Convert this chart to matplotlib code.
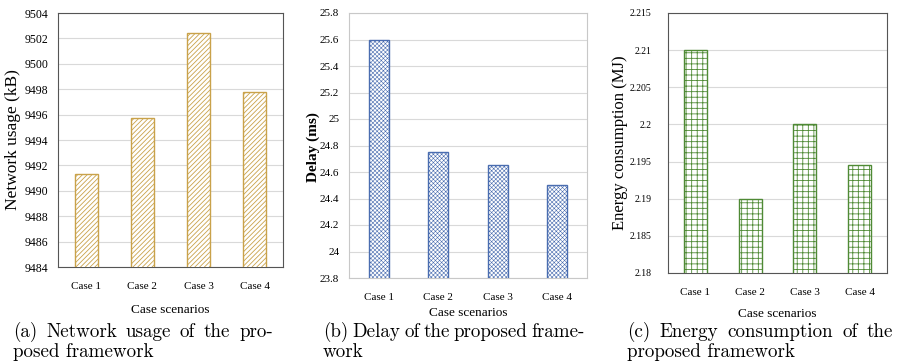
import matplotlib
matplotlib.use("Agg")
import matplotlib.pyplot as plt

cases = ['Case 1', 'Case 2', 'Case 3', 'Case 4']
network_kb = [9491.3, 9495.7, 9502.4, 9497.8]
delay_ms = [25.6, 24.75, 24.65, 24.5]
energy_mj = [2.21, 2.19, 2.2, 2.1945]

net_ticks = list(range(9484, 9505, 2))
delay_ticks = [23.8, 24, 24.2, 24.4, 24.6, 24.8, 25, 25.2, 25.4, 25.6, 25.8]
delay_labels = ['23.8', '24', '24.2', '24.4', '24.6', '24.8', '25', '25.2',
                '25.4', '25.6', '25.8']
energy_ticks = [2.18, 2.185, 2.19, 2.195, 2.2, 2.205, 2.21, 2.215]
energy_labels = ['2.18', '2.185', '2.19', '2.195', '2.2', '2.205', '2.21', '2.215']

serif = 'Liberation Serif'
cap_size = 13.7

W, H = 899, 364
fig = plt.figure(figsize=(W / 100, H / 100), dpi=100)

def px_axes(x0, y0, x1, y1):
  return fig.add_axes([x0 / W, 1 - y1 / H, (x1 - x0) / W, (y1 - y0) / H])

def panel(ax, values, ticks, labels, color, hatch, width, frame,
          tsize=8, ypad=7, xlpad=6, hlw=0.6):
  with plt.rc_context({'hatch.linewidth': hlw}):
    ax.bar(range(len(values)), values, width=width, color='white',
           edgecolor=color, hatch=hatch, linewidth=1.0, zorder=3)
  ax.set_xlim(-0.5, len(values) - 0.5)
  ax.set_ylim(ticks[0], ticks[-1])
  ax.set_yticks(ticks)
  ax.set_yticklabels(labels, fontfamily=serif, fontsize=tsize)
  ax.set_xticks(range(len(values)))
  ax.set_xticklabels(cases, fontfamily=serif, fontsize=8)
  ax.tick_params(axis='x', length=0, pad=10.5)
  ax.tick_params(axis='y', length=0, pad=ypad)
  ax.yaxis.grid(True, color='#d9d9d9', linewidth=0.8, zorder=0)
  ax.set_axisbelow(True)
  for s in ax.spines.values():
    s.set_color(frame)
    s.set_linewidth(0.8)
  ax.set_xlabel('Case scenarios', fontfamily=serif, fontsize=9.5, labelpad=xlpad)

def ylabel(x, y, txt, size, weight='normal'):
  fig.text(x / W, 1 - y / H, txt, rotation=90, ha='center', va='center',
           fontfamily=serif, fontsize=size, fontweight=weight)

# (a) network usage
ax1 = px_axes(58, 13, 283, 267)
panel(ax1, network_kb, net_ticks, [str(t) for t in net_ticks],
      '#c9a24a', '///////', 0.41, '#555555', tsize=8.5, xlpad=10)
ylabel(13, 140, 'Network usage (kB)', 12.5)

# (b) delay
ax2 = px_axes(349, 13, 587, 278)
panel(ax2, delay_ms, delay_ticks, delay_labels,
      '#4a6db0', 'xxxxxxxx', 0.34, '#c8c8c8', tsize=8, xlpad=4, hlw=0.4)
ylabel(313, 147, 'Delay (ms)', 11, 'bold')

# (c) energy consumption
ax3 = px_axes(668, 13, 887, 273)
panel(ax3, energy_mj, energy_ticks, energy_labels,
      '#4f8a35', '+++', 0.42, '#555555', tsize=7, ypad=12, xlpad=8)
ylabel(620, 143, 'Energy consumption (MJ)', 12)

# sub-captions, first line justified to the column width
def justified(x0, x1, y, line):
  words = line.split()
  texts = [fig.text(0, 0, w, fontfamily='cmr10', fontsize=cap_size,
                    va='baseline') for w in words]
  r = fig.canvas.get_renderer()
  widths = [t.get_window_extent(r).width for t in texts]
  gap = (x1 - x0 - sum(widths)) / (len(words) - 1)
  x = x0
  for t, w in zip(texts, widths):
    t.set_position((x / W, 1 - y / H))
    x += w + gap

captions = [
  (13, 273, '(a) Network usage of the pro-', 'posed framework'),
  (323, 585, '(b) Delay of the proposed frame-', 'work'),
  (627, 893, '(c) Energy consumption of the', 'proposed framework'),
]
for x0, x1, first, second in captions:
  justified(x0, x1, 337, first)
  fig.text(x0 / W, 1 - 357 / H, second, fontfamily='cmr10', fontsize=cap_size,
           va='baseline')

fig.savefig('out.png', dpi=100)
